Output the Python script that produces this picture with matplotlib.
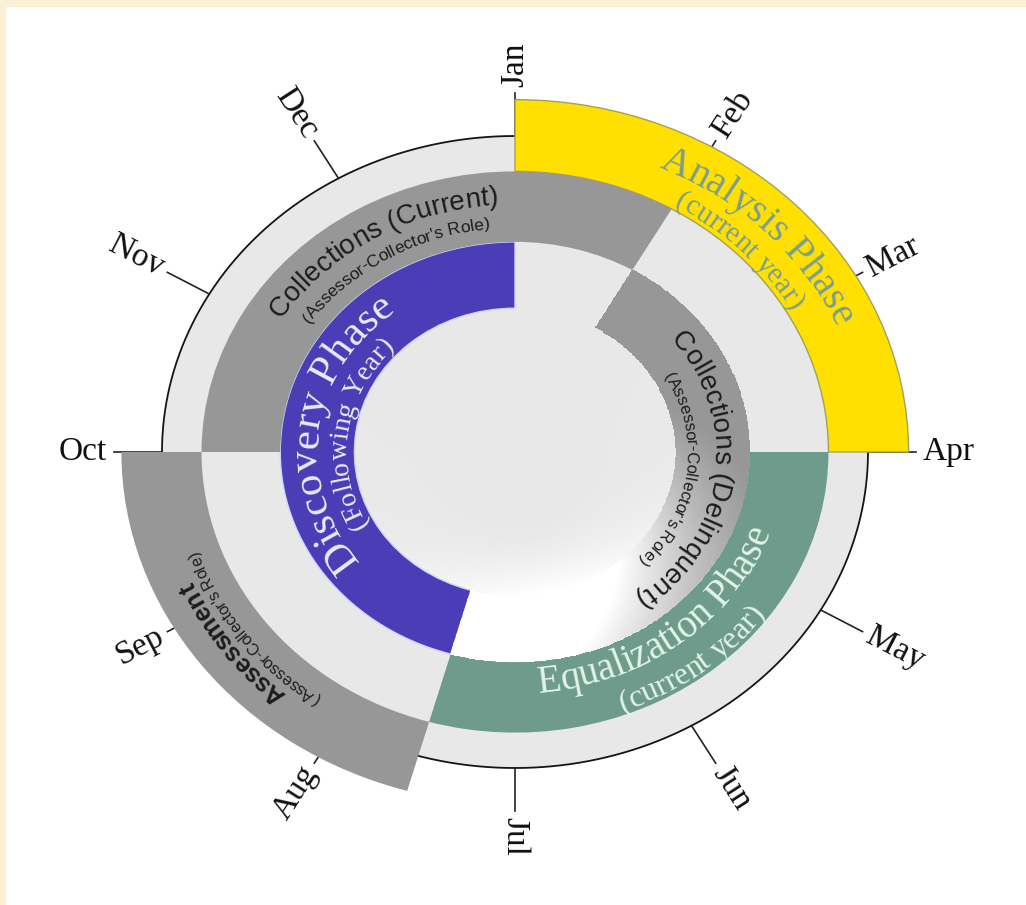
#!/usr/bin/env python3
# Property tax calendar wheel: phases drawn as polar bars on a stretched polar axes
import numpy as np
import matplotlib
matplotlib.use('Agg')
import matplotlib.pyplot as plt
from matplotlib.font_manager import FontProperties, findfont, get_font
from matplotlib.patches import Rectangle

# data
months = ['Jan', 'Feb', 'Mar', 'Apr', 'May', 'Jun',
          'Jul', 'Aug', 'Sep', 'Oct', 'Nov', 'Dec']

# start / end counted in months from Jan 1, going clockwise; ring 0 = innermost
phase_names = ['Analysis Phase', 'Equalization Phase', 'Discovery Phase',
               'Collections (Current)', 'Assessment', 'Collections (Delinquent)']
phase_notes = ['(current year)', '(current year)', '(Following Year)',
               "(Assessor-Collector's Role)", "(Assessor-Collector's Role)",
               "(Assessor-Collector's Role)"]
phase_start = [0.0, 3.0, 6.53, 9.0, 6.53, 1.0]
phase_end = [3.0, 6.53, 12.0, 13.0, 9.0, 6.53]
phase_ring = [2, 1, 0, 1, 2, 0]

# styles
W, H, DPI = 1026, 905, 100
CX, CY = 515, 452          # wheel centre (px from top-left)
RX, RY = 353, 316          # px per unit radius (the wheel is a bit wider than tall)
RMAX = 1.35
RING = [(0.455, 0.665), (0.665, 0.888), (0.888, 1.115)]
SERIF = 'Liberation Serif'
SANS = 'Liberation Sans'

band_color = ['#ffe000', '#6f9b8d', '#4b3db5', '#979797', '#979797', None]
band_edge = ['#a3a15a', 'none', '#d4d2ff', 'none', 'none', None]

# (label centre override, outward?, main (r, size, family, weight, colour), note (r, size))
text_spec = [
    (None, True, (0.99, 29, SERIF, 'normal', '#7b9e8e'), (0.90, 21)),
    (None, False, (0.765, 28, SERIF, 'normal', '#e0f4e8'), (0.875, 23)),
    (None, True, (0.56, 31, SERIF, 'normal', '#ece9ff'), (0.475, 20)),
    (None, True, (0.785, 20, SANS, 'normal', '#1c1c1c'), (0.71, 12.5)),
    (None, True, (1.0, 18, SANS, 'bold', '#1c1c1c'), (0.95, 11.5)),
    (3.25, True, (0.565, 20, SANS, 'normal', '#1c1c1c'), (0.485, 12)),
]


def th(m):
    return np.asarray(m, dtype=float) * 2 * np.pi / 12


fig = plt.figure(figsize=(W / DPI, H / DPI), dpi=DPI, facecolor='white')
fig.patches.append(Rectangle((0, 1 - 6 / H), 1, 6 / H, transform=fig.transFigure,
                             color='#fbf0d6', zorder=0))
fig.patches.append(Rectangle((0, 0), 5 / W, 1, transform=fig.transFigure,
                             color='#fbf0d6', zorder=0))

ax = fig.add_axes([(CX - RMAX * RX) / W, (H - CY - RMAX * RY) / H,
                   2 * RMAX * RX / W, 2 * RMAX * RY / H], projection='polar')
ax.set_aspect('auto')
ax.set_theta_zero_location('N')
ax.set_theta_direction(-1)
ax.set_ylim(0, RMAX)
ax.set_xticks([])
ax.set_yticks([])
ax.grid(False)
ax.spines['polar'].set_visible(False)
ax.patch.set_visible(False)

# light grey disc + outline
ax.bar(0, 1.0, width=2 * np.pi, bottom=0, align='edge', color='#e8e8e8', lw=0, zorder=1)
tt = np.linspace(0, 2 * np.pi, 721)
ax.plot(tt, np.ones_like(tt), color='#151515', lw=1.3, zorder=2)

# soft white glow at the bottom of the inner disc
tg = np.linspace(0, 2 * np.pi, 361)
rg = np.linspace(0, RING[0][0], 40)
clock = np.degrees((tg[:-1] + tg[1:]) / 2)
rc = (rg[:-1] + rg[1:]) / 2
glow = np.exp(-((clock - 168) / 45) ** 2)[None, :] * np.clip((rc[:, None] - 0.25) / 0.205, 0, 1) ** 1.5
T, R = np.meshgrid(tg, rg)
ax.pcolormesh(T, R, 0.91 + 0.09 * glow, cmap='gray', vmin=0, vmax=1, shading='flat', zorder=1.5)

# month ticks and labels
for k, name in enumerate(months):
    t = th(k)
    ax.plot([t, t], [1.0, 1.137], color='#222222', lw=1.2, zorder=2)
    c = ax.transData.transform((0, 0))
    p = ax.transData.transform((t, 1.155))
    d = p - c
    rot = np.degrees(np.arctan2(d[1], d[0]))
    ha = 'left'
    if d[0] < -0.5:
        rot += 180
        ha = 'right'
    ax.text(t, 1.155, name, rotation=rot, rotation_mode='anchor', ha=ha, va='center',
            fontsize=24, family=SERIF, color='#111111', zorder=6)

# solid phase bands
for i in range(len(phase_names)):
    r0, r1 = RING[phase_ring[i]]
    if band_color[i] is None:
        continue
    ax.bar(th(phase_start[i]), r1 - r0, width=th(phase_end[i] - phase_start[i]), bottom=r0,
           align='edge', color=band_color[i], edgecolor=band_edge[i], lw=1.0, zorder=3)

# delinquent collections band fades into white towards the bottom
i = 5
r0, r1 = RING[phase_ring[i]]
tb = th(np.linspace(phase_start[i], phase_end[i], 220))
rb = np.linspace(r0, r1, 30)
clock = np.degrees((tb[:-1] + tb[1:]) / 2)
rr = ((rb[:-1] + rb[1:]) / 2 - r0) / (r1 - r0)
fade = np.clip((clock[None, :] - 95 + 25 * (1 - rr[:, None])) / 70, 0, 1) ** 1.3
T, R = np.meshgrid(tb, rb)
ax.pcolormesh(T, R, 0.59 + 0.41 * fade, cmap='gray', vmin=0, vmax=1, shading='flat', zorder=3)


def advances(s, size, family, weight):
    prop = FontProperties(family=family, size=size, weight=weight)
    font = get_font(findfont(prop))
    font.set_size(size, DPI)
    return np.array([font.load_char(ord(ch)).linearHoriAdvance / 65536 for ch in s])


def arc_text(s, m_center, r, size, family, weight, color, outward):
    adv = advances(s, size, family, weight)
    tgrid = th(np.linspace(m_center - 3.5, m_center + 3.5, 3001))
    pts = ax.transData.transform(np.column_stack([tgrid, np.full_like(tgrid, r)]))
    arc = np.concatenate([[0], np.cumsum(np.hypot(*np.diff(pts, axis=0).T))])
    s_mid = np.interp(th(m_center), tgrid, arc)
    offs = np.cumsum(adv) - adv / 2 - adv.sum() / 2
    pos = s_mid + offs if outward else s_mid - offs
    for ch, a in zip(s, np.interp(pos, arc, tgrid)):
        p0 = ax.transData.transform((a - 1e-3, r))
        p1 = ax.transData.transform((a + 1e-3, r))
        d = p1 - p0 if outward else p0 - p1
        rot = np.degrees(np.arctan2(d[1], d[0]))
        ax.text(a, r, ch, rotation=rot, rotation_mode='anchor', ha='center', va='baseline',
                fontsize=size, family=family, weight=weight, color=color, zorder=5)


for i in range(len(phase_names)):
    centre, outward, main, note = text_spec[i]
    if centre is None:
        centre = (phase_start[i] + phase_end[i]) / 2
    r, size, family, weight, color = main
    arc_text(phase_names[i], centre, r, size, family, weight, color, outward)
    arc_text(phase_notes[i], centre, note[0], note[1], family, 'normal', color, outward)

fig.savefig('out.png', dpi=DPI, facecolor='white')
